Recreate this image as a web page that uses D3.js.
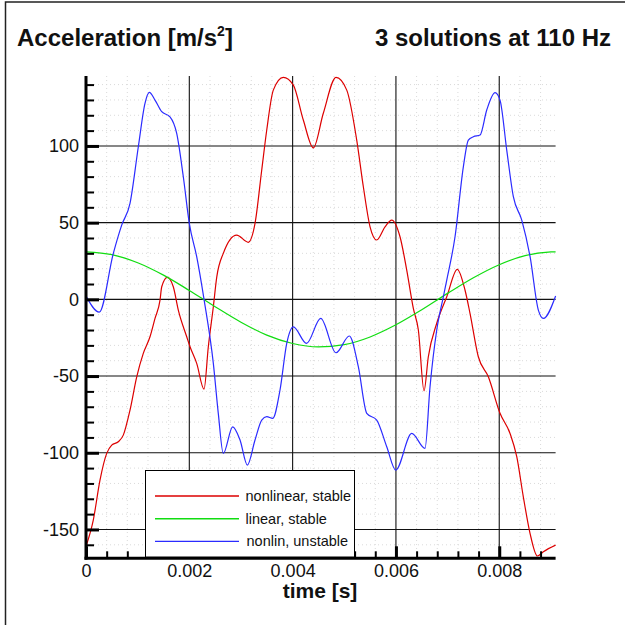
<!DOCTYPE html>
<html>
<head>
<meta charset="utf-8">
<script src="https://cdn.jsdelivr.net/npm/d3@7"></script>
<style>
  body { margin: 0; background: #fff; }
  svg { font-family: "Liberation Sans", Arial, sans-serif; }
</style>
</head>
<body>
<div id="chart"></div>
<script>
// time [s] and acceleration [m/s^2] for each solution
const redT = [0, 0.000141, 0.000271, 0.000401, 0.000498, 0.000625, 0.000722, 0.000852, 0.000982, 0.001109,
  0.001239, 0.001336, 0.001433, 0.001466, 0.001574, 0.00169, 0.001787, 0.00195, 0.002014, 0.002143,
  0.002285, 0.002368, 0.002465, 0.002531, 0.002658, 0.002917, 0.003142, 0.003272, 0.003402, 0.003499,
  0.003626, 0.00382, 0.004014, 0.004207, 0.004401, 0.004594, 0.00484, 0.005048, 0.005241, 0.005369,
  0.005499, 0.005628, 0.005789, 0.005919, 0.006079, 0.006209, 0.006337, 0.006434, 0.006544, 0.006627,
  0.00679, 0.006984, 0.007188, 0.007337, 0.007434, 0.007595, 0.007789, 0.008015, 0.008209, 0.008339,
  0.008466, 0.008596, 0.008738, 0.008854, 0.009091];
const redA = [-161, -143.9, -117.8, -100.4, -95.0, -92.8, -88.5, -72.2, -50.5, -35.2,
  -24.4, -12.4, -0.5, 8.2, 14.3, 8.2, -7.0, -24.4, -30.9, -41.7,
  -58.5, -30.9, -4.8, 14.5, 30.0, 41.9, 37.2, 49.5, 84.3, 110.4,
  136.4, 144.7, 139.7, 116.9, 98.8, 121.3, 144.7, 136.4, 103.8, 73.4,
  47.3, 38.7, 47.3, 51.7, 40.8, 19.1, -5.9, -20.0, -59.6, -37.4,
  -15.6, 1.7, 19.6, 6.1, -9.1, -37.4, -50.5, -74.3, -87.4, -102.6,
  -128.7, -152.5, -167.3, -164.5, -160.2];

const greenT = [0, 0.0005, 0.001, 0.0015, 0.002, 0.0025, 0.003, 0.0035, 0.004, 0.0045,
  0.005, 0.0055, 0.006, 0.0065, 0.007, 0.0075, 0.008, 0.0085, 0.009, 0.009091];
const greenA = [31.0, 29.2, 23.9, 15.8, 5.8, -4.8, -14.9, -23.3, -28.8, -31.0,
  -29.5, -24.5, -16.6, -6.8, 3.9, 14.1, 22.6, 28.5, 30.9, 31.0];

const blueT = [0, 0.000257, 0.000529, 0.000691, 0.000852, 0.001013, 0.001142, 0.001226, 0.001336, 0.001466,
  0.001626, 0.001756, 0.001884, 0.002, 0.002143, 0.002285, 0.002465, 0.002561, 0.002658, 0.00284,
  0.002982, 0.003123, 0.003272, 0.003402, 0.003499, 0.003615, 0.003756, 0.003886, 0.004014, 0.004269,
  0.004544, 0.00484, 0.005098, 0.005272, 0.005435, 0.005628, 0.005822, 0.005996, 0.006306, 0.006563,
  0.00666, 0.00679, 0.006918, 0.006984, 0.007144, 0.007305, 0.007402, 0.007499, 0.007628, 0.007758,
  0.007919, 0.008015, 0.008145, 0.008273, 0.008436, 0.008597, 0.008757, 0.008854, 0.009091];
const blueA = [2.2, -8.3, 30.0, 48.4, 62.6, 99.5, 127.8, 134.9, 129.9, 122.3,
  119.0, 108.2, 79.9, 49.5, 27.8, 0, -41.7, -74.3, -100.4, -83.1,
  -91.7, -108.0, -91.7, -78.7, -76.5, -77.6, -59.1, -28.7, -17.9, -28.7,
  -12.4, -34.8, -23.9, -43.9, -74.3, -78.7, -96.1, -111.3, -87.4, -97.1,
  -57.0, -20.0, 1.7, 12.6, 40.8, 86.4, 103.8, 106.0, 107.1, 123.4,
  134.7, 129.9, 97.3, 66.9, 51.7, 27.8, -7.0, -12.4, 2.2];

const seriesNames = ['nonlinear, stable', 'linear, stable', 'nonlin, unstable'];
const seriesColors = ['#dd0000', '#11dd11', '#2b2bff'];

const xMajorTicks = [0, 0.002, 0.004, 0.006, 0.008];
const xMinorTicks = [0.0004, 0.0008, 0.0012, 0.0016, 0.0024, 0.0028, 0.0032, 0.0036, 0.0044, 0.0048,
  0.0052, 0.0056, 0.0064, 0.0068, 0.0072, 0.0076, 0.0084, 0.0088];
const yMajorTicks = [-150, -100, -50, 0, 50, 100];
const yMinorTicks = [-160, -140, -130, -120, -110, -90, -80, -70, -60, -40, -30, -20, -10,
  10, 20, 30, 40, 60, 70, 80, 90, 110, 120, 130, 140];

const tMax = 0.009091;
const aMin = -168.8, aMax = 145.6;

class AccelerationChart {
  constructor(_config) {
    this.config = {
      parentElement: _config.parentElement,
      containerWidth: _config.containerWidth,
      containerHeight: _config.containerHeight,
      margin: _config.margin
    };
    this.initVis();
  }

  initVis() {
    let vis = this;
    vis.width = vis.config.containerWidth - vis.config.margin.left - vis.config.margin.right;
    vis.height = vis.config.containerHeight - vis.config.margin.top - vis.config.margin.bottom;

    vis.svg = d3.select(vis.config.parentElement).append('svg')
      .attr('width', vis.config.containerWidth)
      .attr('height', vis.config.containerHeight);

    vis.chart = vis.svg.append('g')
      .attr('transform', `translate(${vis.config.margin.left},${vis.config.margin.top})`);

    vis.xScale = d3.scaleLinear().domain([0, tMax]).range([0, vis.width]);
    vis.yScale = d3.scaleLinear().domain([aMin, aMax]).range([vis.height, 0]);

    vis.series = [
      { name: seriesNames[0], color: seriesColors[0], values: redT.map((t, i) => [t, redA[i]]) },
      { name: seriesNames[1], color: seriesColors[1], values: greenT.map((t, i) => [t, greenA[i]]) },
      { name: seriesNames[2], color: seriesColors[2], values: blueT.map((t, i) => [t, blueA[i]]) }
    ];

    vis.renderVis();
  }

  renderVis() {
    let vis = this;

    // outer frame (top and left edges)
    vis.svg.append('path')
      .attr('d', `M5.5,${vis.config.containerHeight} V2 H${vis.config.containerWidth}`)
      .attr('fill', 'none')
      .attr('stroke', '#222')
      .attr('stroke-width', 1.5);

    // dotted minor grid
    const minorGrid = vis.chart.append('g').attr('class', 'minor-grid');
    minorGrid.selectAll('.vx').data(xMinorTicks).join('line')
      .attr('x1', d => vis.xScale(d)).attr('x2', d => vis.xScale(d))
      .attr('y1', 0).attr('y2', vis.height);
    minorGrid.selectAll('.hy').data(yMinorTicks).join('line')
      .attr('y1', d => vis.yScale(d)).attr('y2', d => vis.yScale(d))
      .attr('x1', 0).attr('x2', vis.width);
    minorGrid.selectAll('line')
      .attr('stroke', '#dadada')
      .attr('stroke-width', 1)
      .attr('stroke-dasharray', '1,3');

    // solid major grid
    const majorGrid = vis.chart.append('g').attr('class', 'major-grid');
    majorGrid.selectAll('.vx').data(xMajorTicks.filter(d => d > 0)).join('line')
      .attr('x1', d => vis.xScale(d)).attr('x2', d => vis.xScale(d))
      .attr('y1', 0).attr('y2', vis.height);
    majorGrid.selectAll('.hy').data(yMajorTicks).join('line')
      .attr('y1', d => vis.yScale(d)).attr('y2', d => vis.yScale(d))
      .attr('x1', 0).attr('x2', vis.width);
    majorGrid.selectAll('line')
      .attr('stroke', '#111')
      .attr('stroke-width', 1.1);

    // curves
    const line = d3.line()
      .x(d => vis.xScale(d[0]))
      .y(d => vis.yScale(d[1]))
      .curve(d3.curveMonotoneX);

    vis.chart.selectAll('.curve').data(vis.series).join('path')
      .attr('class', 'curve')
      .attr('d', d => line(d.values))
      .attr('fill', 'none')
      .attr('stroke', d => d.color)
      .attr('stroke-width', 1.2);

    // axes: ticks point inward
    const styleTicks = g => {
      g.select('.domain').remove();
      g.selectAll('text')
        .style('font-size', '18px')
        .style('font-family', '"Liberation Sans", Arial, sans-serif')
        .attr('fill', '#111');
    };

    vis.chart.append('g')
      .call(d3.axisLeft(vis.yScale).tickValues(yMinorTicks).tickSize(-8).tickFormat(''))
      .call(styleTicks)
      .selectAll('line').attr('stroke', '#000').attr('stroke-width', 2);

    // plain hyphen for negative labels
    vis.chart.append('g')
      .call(d3.axisLeft(vis.yScale).tickValues(yMajorTicks).tickSize(-13).tickPadding(7)
        .tickFormat(d => String(d)))
      .call(styleTicks)
      .selectAll('line').attr('stroke', '#000').attr('stroke-width', 3);

    vis.chart.append('g')
      .attr('transform', `translate(0,${vis.height})`)
      .call(d3.axisBottom(vis.xScale).tickValues(xMinorTicks).tickSize(-7).tickFormat(''))
      .call(styleTicks)
      .selectAll('line').attr('stroke', '#000').attr('stroke-width', 2);

    vis.chart.append('g')
      .attr('transform', `translate(0,${vis.height})`)
      .call(d3.axisBottom(vis.xScale).tickValues(xMajorTicks).tickSize(-12).tickPadding(6)
        .tickFormat(d => d === 0 ? '0' : d3.format('.3f')(d)))
      .call(styleTicks)
      .selectAll('line').attr('stroke', '#000').attr('stroke-width', 3);

    // legend box
    const legend = vis.svg.append('g').attr('class', 'legend');
    legend.append('rect')
      .attr('x', 145.5).attr('y', 470.5)
      .attr('width', 209).attr('height', 86.5)
      .attr('fill', '#fff')
      .attr('stroke', '#000')
      .attr('stroke-width', 1);

    const rows = legend.selectAll('.row').data(vis.series).join('g')
      .attr('class', 'row')
      .attr('transform', (d, i) => `translate(0,${496 + i * 22.7})`);
    rows.append('line')
      .attr('x1', 155).attr('x2', 239)
      .attr('stroke', d => d.color)
      .attr('stroke-width', 1.4);
    rows.append('text')
      .attr('x', (d, i) => i === 2 ? 246.5 : 245.5)
      .attr('y', 5)
      .style('font-size', '14.5px')
      .attr('fill', '#111')
      .text(d => d.name);

    // axis lines drawn last so they sit above the legend
    vis.chart.append('line')
      .attr('x1', 0).attr('x2', 0).attr('y1', 0).attr('y2', vis.height + 1.5)
      .attr('stroke', '#000').attr('stroke-width', 3);
    vis.chart.append('line')
      .attr('x1', -1.5).attr('x2', vis.width).attr('y1', vis.height).attr('y2', vis.height)
      .attr('stroke', '#000').attr('stroke-width', 3);

    // titles
    const title = vis.svg.append('text')
      .attr('x', 17).attr('y', 46)
      .style('font-size', '24px')
      .style('font-weight', 'bold')
      .attr('fill', '#111');
    title.append('tspan').text('Acceleration [m/s');
    title.append('tspan').attr('dy', -10).style('font-size', '14px').text('2');
    title.append('tspan').attr('dy', 10).text(']');

    vis.svg.append('text')
      .attr('x', 611).attr('y', 46)
      .attr('text-anchor', 'end')
      .style('font-size', '24px')
      .style('font-weight', 'bold')
      .attr('fill', '#111')
      .text('3 solutions at 110 Hz');

    vis.svg.append('text')
      .attr('x', 320).attr('y', 598)
      .attr('text-anchor', 'middle')
      .style('font-size', '21px')
      .style('font-weight', 'bold')
      .attr('fill', '#111')
      .text('time [s]');
  }
}

new AccelerationChart({
  parentElement: '#chart',
  containerWidth: 625,
  containerHeight: 625,
  margin: { top: 76, right: 69.4, bottom: 66.7, left: 86 }
});
</script>
</body>
</html>
